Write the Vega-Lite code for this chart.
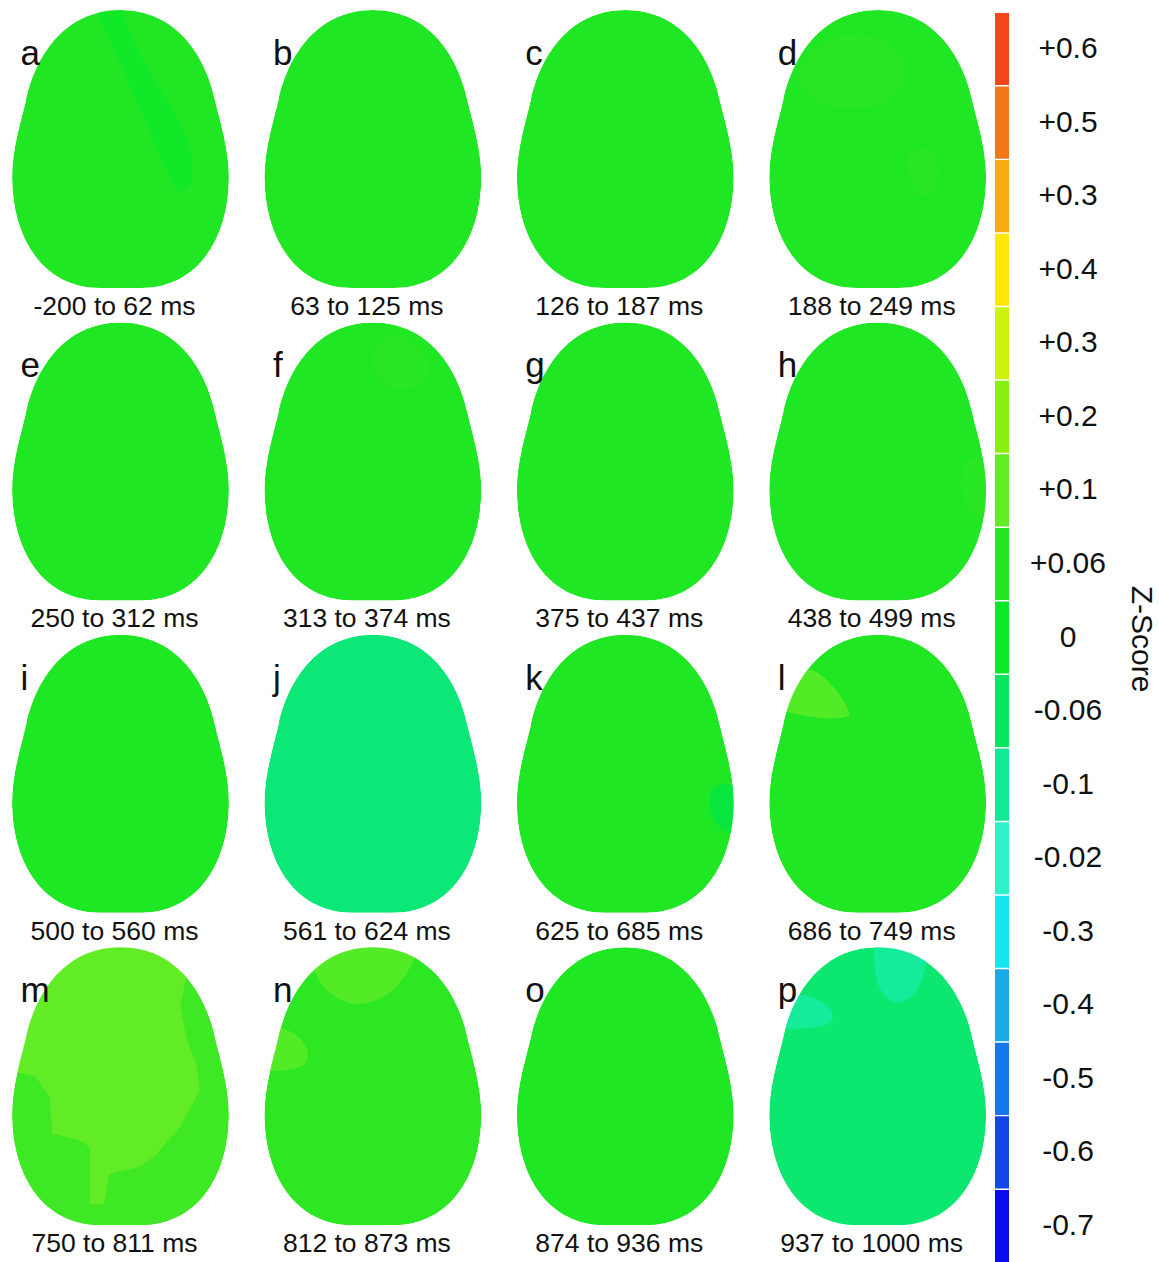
{
  "$schema": "https://vega.github.io/schema/vega-lite/v6.json",
  "width": 1159,
  "height": 1262,
  "autosize": {"type": "none"},
  "padding": 0,
  "background": "white",
  "config": {"view": {"stroke": null}, "font": "Liberation Sans", "text": {"font": "Liberation Sans", "color": "#111111"}},
  "datasets": {
    "heads": [
      {"id": "a", "col": 0, "row": 0, "z": 7.2, "time": "-200 to 62 ms"},
      {"id": "b", "col": 1, "row": 0, "z": 7.25, "time": "63 to 125 ms"},
      {"id": "c", "col": 2, "row": 0, "z": 7.25, "time": "126 to 187 ms"},
      {"id": "d", "col": 3, "row": 0, "z": 7.25, "time": "188 to 249 ms"},
      {"id": "e", "col": 0, "row": 1, "z": 7.25, "time": "250 to 312 ms"},
      {"id": "f", "col": 1, "row": 1, "z": 7.25, "time": "313 to 374 ms"},
      {"id": "g", "col": 2, "row": 1, "z": 7.25, "time": "375 to 437 ms"},
      {"id": "h", "col": 3, "row": 1, "z": 7.25, "time": "438 to 499 ms"},
      {"id": "i", "col": 0, "row": 2, "z": 7.3, "time": "500 to 560 ms"},
      {"id": "j", "col": 1, "row": 2, "z": 9.45, "time": "561 to 624 ms"},
      {"id": "k", "col": 2, "row": 2, "z": 7.25, "time": "625 to 685 ms"},
      {"id": "l", "col": 3, "row": 2, "z": 7.2, "time": "686 to 749 ms"},
      {"id": "m", "col": 0, "row": 3, "z": 6.6, "time": "750 to 811 ms"},
      {"id": "n", "col": 1, "row": 3, "z": 6.9, "time": "812 to 873 ms"},
      {"id": "o", "col": 2, "row": 3, "z": 7.25, "time": "874 to 936 ms"},
      {"id": "p", "col": 3, "row": 3, "z": 9.3, "time": "937 to 1000 ms"}
    ],
    "patches": [
      {"p": "a1", "col": 0, "row": 0, "z": 7.75},
      {"p": "d1", "col": 3, "row": 0, "z": 6.95},
      {"p": "d2", "col": 3, "row": 0, "z": 6.95},
      {"p": "f1", "col": 1, "row": 1, "z": 6.95},
      {"p": "h1", "col": 3, "row": 1, "z": 6.95},
      {"p": "k1", "col": 2, "row": 2, "z": 8.4},
      {"p": "l1", "col": 3, "row": 2, "z": 6.25},
      {"p": "m1", "col": 0, "row": 3, "z": 6.0},
      {"p": "n1", "col": 1, "row": 3, "z": 6.25},
      {"p": "n2", "col": 1, "row": 3, "z": 6.25},
      {"p": "p1", "col": 3, "row": 3, "z": 10.1},
      {"p": "p2", "col": 3, "row": 3, "z": 10.1}
    ],
    "bar": [
      {"seg": 0, "label": "+0.6"},
      {"seg": 1, "label": "+0.5"},
      {"seg": 2, "label": "+0.3"},
      {"seg": 3, "label": "+0.4"},
      {"seg": 4, "label": "+0.3"},
      {"seg": 5, "label": "+0.2"},
      {"seg": 6, "label": "+0.1"},
      {"seg": 7, "label": "+0.06"},
      {"seg": 8, "label": "0"},
      {"seg": 9, "label": "-0.06"},
      {"seg": 10, "label": "-0.1"},
      {"seg": 11, "label": "-0.02"},
      {"seg": 12, "label": "-0.3"},
      {"seg": 13, "label": "-0.4"},
      {"seg": 14, "label": "-0.5"},
      {"seg": 15, "label": "-0.6"},
      {"seg": 16, "label": "-0.7"}
    ],
    "ztitle": [{"t": "Z-Score", "col": 4.043, "row": 1.5685}]
  },
  "resolve": {"scale": {"y": "independent"}},
  "layer": [
    {
      "encoding": {
        "x": {"field": "col", "type": "quantitative", "scale": {"domain": [-0.4774, 4.1145], "nice": false, "zero": false}, "axis": null},
        "y": {"field": "row", "type": "quantitative", "scale": {"domain": [-0.477, 3.5628], "reverse": true, "nice": false, "zero": false}, "axis": null}
      },
      "layer": [
        {
          "data": {"name": "heads"},
          "mark": {"type": "point", "shape": "M0,-1 C0.42,-1 0.62,-0.64 0.68,-0.35 C0.715,-0.2 0.78,0.0 0.78,0.2 C0.78,0.65 0.55,1 0.15,1 L-0.15,1 C-0.55,1 -0.78,0.65 -0.78,0.2 C-0.78,0.0 -0.715,-0.2 -0.68,-0.35 C-0.62,-0.64 -0.42,-1 0,-1 Z", "size": 77284, "filled": true, "opacity": 1, "strokeWidth": 0},
          "encoding": {"color": {"field": "z", "type": "quantitative", "scale": {"domain": [0,1,2,3,4,5,6,7,8,9,10,11,12,13,14,15,16], "range": ["#F5461B","#F07818","#F9AA10","#FFE70A","#CDF20E","#88F010","#62EC26","#26E622","#0AE82A","#08E65E","#12EA96","#30F0C8","#14E6F2","#1AAAE6","#1677E8","#1346E6","#0A0CEE"], "interpolate": "rgb"}, "legend": null}}
        },
        {
          "data": {"name": "patches"}, "transform": [{"filter": "datum.p == 'a1'"}],
          "mark": {"type": "point", "shape": "M-0.2,-1.05 L0.0,-1.05 C0.1,-0.6 0.4,-0.35 0.5,0.0 C0.55,0.2 0.5,0.32 0.4,0.3 C0.3,0.1 0.15,-0.3 -0.2,-1.05 Z", "size": 77284, "filled": true, "opacity": 1, "strokeWidth": 0},
          "encoding": {"color": {"field": "z", "type": "quantitative", "legend": null}}
        },
        {
          "data": {"name": "patches"}, "transform": [{"filter": "datum.p == 'd1'"}],
          "mark": {"type": "point", "shape": "M-0.55,-0.6 C-0.4,-0.9 0.1,-0.9 0.2,-0.6 C0.25,-0.4 0,-0.25 -0.3,-0.3 C-0.5,-0.33 -0.62,-0.45 -0.55,-0.6 Z", "size": 77284, "filled": true, "opacity": 1, "strokeWidth": 0},
          "encoding": {"color": {"field": "z", "type": "quantitative", "legend": null}}
        },
        {
          "data": {"name": "patches"}, "transform": [{"filter": "datum.p == 'd2'"}],
          "mark": {"type": "point", "shape": "M0.22,0.05 C0.28,-0.05 0.42,-0.02 0.44,0.15 C0.45,0.3 0.35,0.38 0.28,0.3 C0.22,0.22 0.2,0.12 0.22,0.05 Z", "size": 77284, "filled": true, "opacity": 1, "strokeWidth": 0},
          "encoding": {"color": {"field": "z", "type": "quantitative", "legend": null}}
        },
        {
          "data": {"name": "patches"}, "transform": [{"filter": "datum.p == 'f1'"}],
          "mark": {"type": "point", "shape": "M0.0,-0.75 C0.05,-1.0 0.3,-0.95 0.4,-0.72 C0.45,-0.6 0.3,-0.5 0.15,-0.52 C0.05,-0.55 -0.02,-0.65 0,-0.75 Z", "size": 77284, "filled": true, "opacity": 1, "strokeWidth": 0},
          "encoding": {"color": {"field": "z", "type": "quantitative", "legend": null}}
        },
        {
          "data": {"name": "patches"}, "transform": [{"filter": "datum.p == 'h1'"}],
          "mark": {"type": "point", "shape": "M0.62,0.0 C0.7,-0.05 0.85,0.0 0.85,0.2 C0.85,0.4 0.7,0.45 0.64,0.35 C0.6,0.25 0.6,0.1 0.62,0.0 Z", "size": 77284, "filled": true, "opacity": 1, "strokeWidth": 0},
          "encoding": {"color": {"field": "z", "type": "quantitative", "legend": null}}
        },
        {
          "data": {"name": "patches"}, "transform": [{"filter": "datum.p == 'k1'"}],
          "mark": {"type": "point", "shape": "M0.62,0.12 C0.66,0.05 0.8,0.05 0.85,0.15 L0.85,0.42 C0.75,0.45 0.66,0.4 0.63,0.32 C0.6,0.25 0.6,0.18 0.62,0.12 Z", "size": 77284, "filled": true, "opacity": 1, "strokeWidth": 0},
          "encoding": {"color": {"field": "z", "type": "quantitative", "legend": null}}
        },
        {
          "data": {"name": "patches"}, "transform": [{"filter": "datum.p == 'l1'"}],
          "mark": {"type": "point", "shape": "M-0.45,-0.74 C-0.35,-0.68 -0.22,-0.52 -0.2,-0.42 C-0.3,-0.38 -0.5,-0.4 -0.75,-0.47 L-0.7,-0.8 Z", "size": 77284, "filled": true, "opacity": 1, "strokeWidth": 0},
          "encoding": {"color": {"field": "z", "type": "quantitative", "legend": null}}
        },
        {
          "data": {"name": "patches"}, "transform": [{"filter": "datum.p == 'm1'"}],
          "mark": {"type": "point", "shape": "M-0.92,-0.14 L-0.61,-0.07 L-0.51,0.08 L-0.49,0.34 L-0.29,0.39 L-0.22,0.44 L-0.22,0.85 L-0.12,0.85 L-0.08,0.63 L0.14,0.58 L0.26,0.49 L0.43,0.29 L0.57,0.03 L0.55,-0.14 L0.48,-0.33 L0.43,-0.57 L0.48,-0.81 L0.8,-1.08 L-0.92,-1.08 Z", "size": 77284, "filled": true, "opacity": 1, "strokeWidth": 0},
          "encoding": {"color": {"field": "z", "type": "quantitative", "legend": null}}
        },
        {
          "data": {"name": "patches"}, "transform": [{"filter": "datum.p == 'n1'"}],
          "mark": {"type": "point", "shape": "M-0.55,-1.08 L-0.42,-0.84 C-0.38,-0.7 -0.25,-0.6 -0.1,-0.59 C0.05,-0.6 0.2,-0.7 0.28,-0.88 L0.36,-1.08 Z", "size": 77284, "filled": true, "opacity": 1, "strokeWidth": 0},
          "encoding": {"color": {"field": "z", "type": "quantitative", "legend": null}}
        },
        {
          "data": {"name": "patches"}, "transform": [{"filter": "datum.p == 'n2'"}],
          "mark": {"type": "point", "shape": "M-0.92,-0.45 L-0.7,-0.43 C-0.55,-0.4 -0.45,-0.3 -0.47,-0.2 C-0.5,-0.12 -0.6,-0.11 -0.92,-0.1 Z", "size": 77284, "filled": true, "opacity": 1, "strokeWidth": 0},
          "encoding": {"color": {"field": "z", "type": "quantitative", "legend": null}}
        },
        {
          "data": {"name": "patches"}, "transform": [{"filter": "datum.p == 'p1'"}],
          "mark": {"type": "point", "shape": "M-0.02,-1.08 L0.36,-1.08 C0.36,-0.8 0.3,-0.63 0.15,-0.6 C0.0,-0.62 -0.04,-0.8 -0.02,-1.08 Z", "size": 77284, "filled": true, "opacity": 1, "strokeWidth": 0},
          "encoding": {"color": {"field": "z", "type": "quantitative", "legend": null}}
        },
        {
          "data": {"name": "patches"}, "transform": [{"filter": "datum.p == 'p2'"}],
          "mark": {"type": "point", "shape": "M-0.9,-0.68 L-0.6,-0.66 C-0.45,-0.66 -0.32,-0.58 -0.32,-0.5 C-0.34,-0.42 -0.45,-0.4 -0.9,-0.42 Z", "size": 77284, "filled": true, "opacity": 1, "strokeWidth": 0},
          "encoding": {"color": {"field": "z", "type": "quantitative", "legend": null}}
        },
        {
          "data": {"name": "heads"},
          "mark": {"type": "point", "shape": "M-0.95,-1.1 L-0.95,1.1 L0.95,1.1 L0.95,-1.1 Z M0,-1 C0.42,-1 0.62,-0.64 0.68,-0.35 C0.715,-0.2 0.78,0.0 0.78,0.2 C0.78,0.65 0.55,1 0.15,1 L-0.15,1 C-0.55,1 -0.78,0.65 -0.78,0.2 C-0.78,0.0 -0.715,-0.2 -0.68,-0.35 C-0.62,-0.64 -0.42,-1 0,-1 Z", "size": 77284, "filled": true, "color": "white", "opacity": 1, "strokeWidth": 0}
        },
        {
          "data": {"name": "heads"},
          "mark": {"type": "text", "align": "left", "baseline": "alphabetic", "dx": -100, "dy": -84, "fontSize": 35},
          "encoding": {"text": {"field": "id"}}
        },
        {
          "data": {"name": "heads"},
          "mark": {"type": "text", "align": "center", "baseline": "middle", "dx": -6, "dy": 158, "fontSize": 26.5},
          "encoding": {"text": {"field": "time"}}
        },
        {
          "data": {"name": "ztitle"},
          "mark": {"type": "text", "align": "center", "baseline": "middle", "angle": 90, "fontSize": 30},
          "encoding": {"text": {"field": "t"}}
        }
      ]
    },
    {
      "data": {"name": "bar"},
      "encoding": {
        "y": {"field": "seg", "type": "ordinal", "scale": {"type": "band", "range": [13, 1262], "paddingInner": 0.02, "paddingOuter": 0}, "axis": null}
      },
      "layer": [
        {
          "mark": {"type": "rect", "width": 14},
          "encoding": {
            "x": {"datum": 3.4925, "type": "quantitative", "scale": {"domain": [-0.4774, 4.1145], "nice": false, "zero": false}, "axis": null},
            "color": {"field": "seg", "type": "quantitative", "legend": null}
          }
        },
        {
          "mark": {"type": "text", "align": "center", "baseline": "middle", "fontSize": 30},
          "encoding": {
            "x": {"datum": 3.754, "type": "quantitative"},
            "text": {"field": "label"}
          }
        }
      ]
    }
  ]
}
